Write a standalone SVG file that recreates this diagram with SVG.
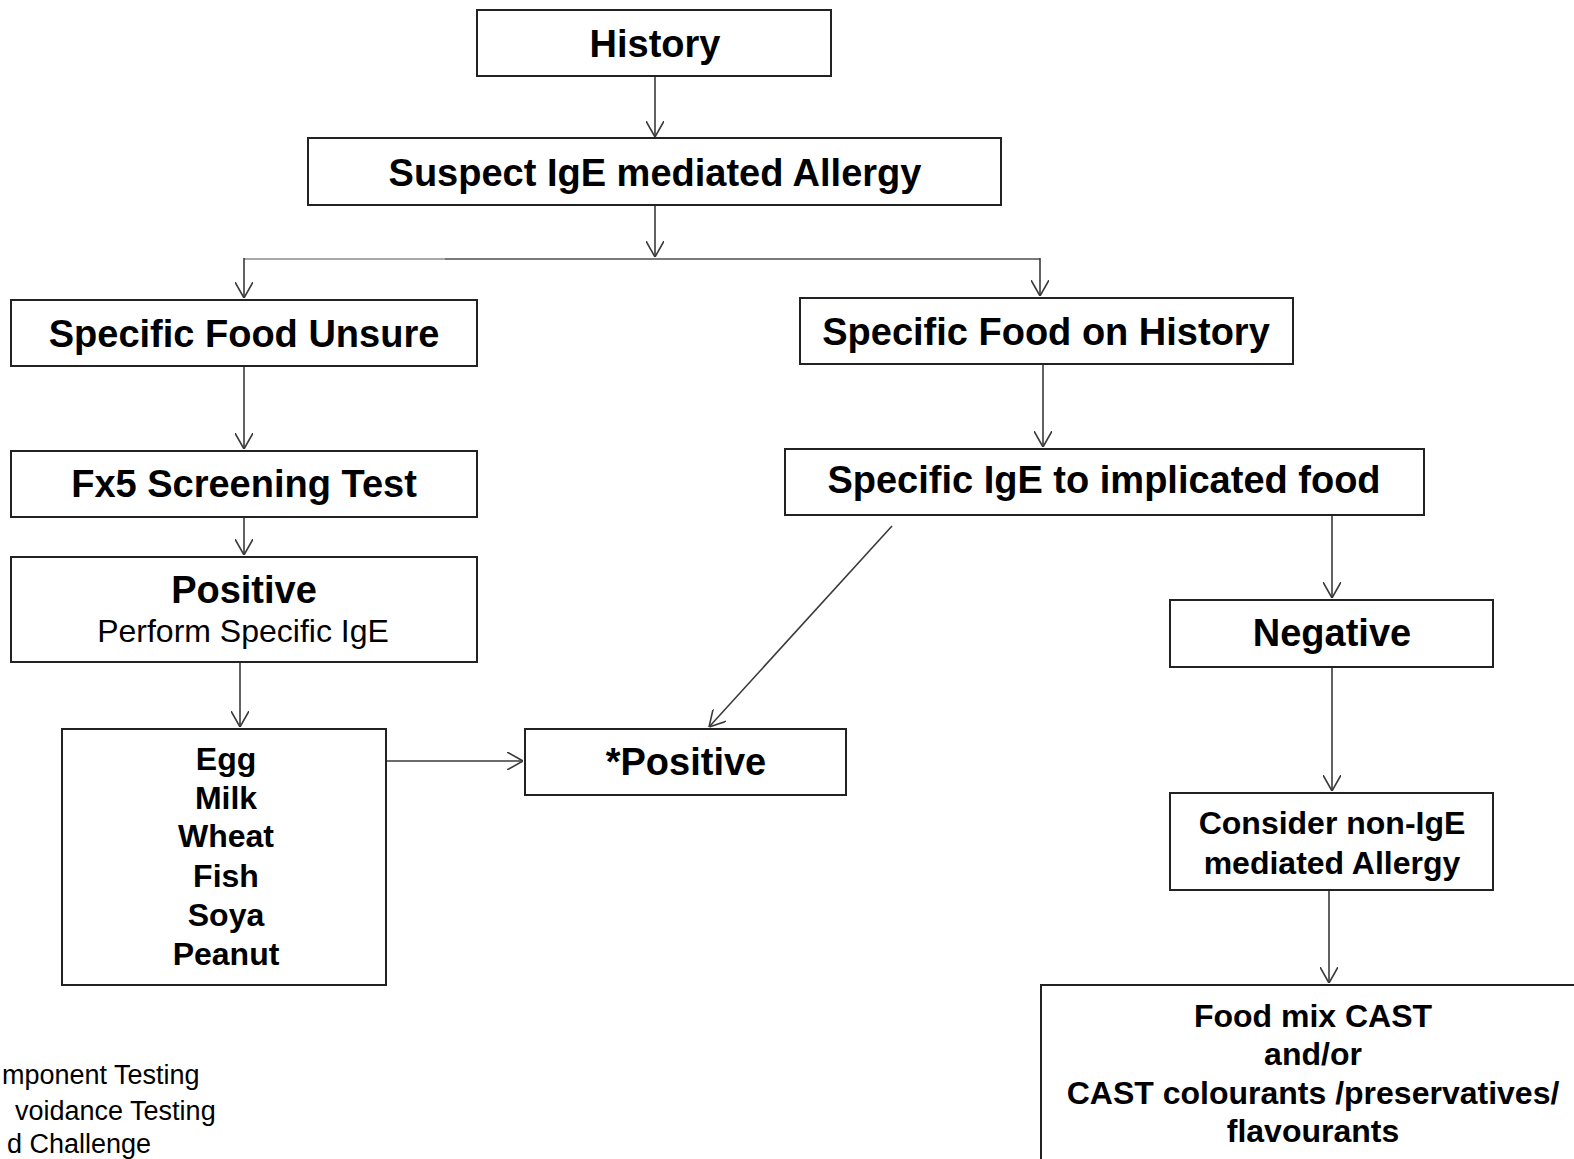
<svg xmlns="http://www.w3.org/2000/svg" width="1574" height="1159" viewBox="0 0 1574 1159">
  <style>
    .box { fill: #ffffff; stroke: #222222; stroke-width: 2; }
    .t { font-family: "Liberation Sans", Arial, sans-serif; fill: #000000; text-anchor: middle; }
    .h { font-size: 38px; font-weight: bold; }
    .l { font-size: 32px; font-weight: bold; }
    .r { font-size: 32px; }
    .note { font-family: "Liberation Sans", Arial, sans-serif; font-size: 27px; fill: #000000; text-anchor: start; }
    .c { fill: none; stroke: #3a3a3a; stroke-width: 1.6; }
  </style>
  <defs>
    <marker id="arrow" viewBox="0 0 16 18" refX="16" refY="9" markerWidth="16" markerHeight="18" markerUnits="userSpaceOnUse" orient="auto">
      <path d="M0,0 L16,9 L0,18" fill="none" stroke="#3a3a3a" stroke-width="1.6"/>
    </marker>
  </defs>
  <rect width="1574" height="1159" fill="#ffffff"/>

  <!-- connectors -->
  <g id="connectors">
    <line class="c" x1="655" y1="76" x2="655" y2="137" marker-end="url(#arrow)"/>
    <line class="c" x1="655" y1="205" x2="655" y2="257" marker-end="url(#arrow)"/>
    <line x1="244" y1="259" x2="445" y2="259" stroke="#a8a8a8" stroke-width="2"/>
    <line x1="445" y1="259" x2="1040" y2="259" stroke="#7a7a7a" stroke-width="1.8"/>
    <line class="c" x1="244" y1="258" x2="244" y2="298" marker-end="url(#arrow)"/>
    <line class="c" x1="1040" y1="258" x2="1040" y2="296" marker-end="url(#arrow)"/>
    <line class="c" x1="244" y1="366" x2="244" y2="449" marker-end="url(#arrow)"/>
    <line class="c" x1="244" y1="517" x2="244" y2="555" marker-end="url(#arrow)"/>
    <line class="c" x1="240" y1="662" x2="240" y2="727" marker-end="url(#arrow)"/>
    <line class="c" x1="386" y1="761" x2="523" y2="761" stroke="#6a6a6a" marker-end="url(#arrow)"/>
    <line class="c" x1="1043" y1="364" x2="1043" y2="447" marker-end="url(#arrow)"/>
    <line class="c" x1="892" y1="526" x2="709" y2="727" marker-end="url(#arrow)"/>
    <line class="c" x1="1332" y1="515" x2="1332" y2="598" marker-end="url(#arrow)"/>
    <line class="c" x1="1332" y1="667" x2="1332" y2="791" marker-end="url(#arrow)"/>
    <line class="c" x1="1329" y1="890" x2="1329" y2="983" marker-end="url(#arrow)"/>
  </g>

  <g id="history">
    <rect class="box" x="477" y="10" width="354" height="66"/>
    <text class="t h" x="655" y="57">History</text>
  </g>
  <g id="suspect">
    <rect class="box" x="308" y="138" width="693" height="67"/>
    <text class="t h" x="655" y="186">Suspect IgE mediated Allergy</text>
  </g>
  <g id="food-unsure">
    <rect class="box" x="11" y="300" width="466" height="66"/>
    <text class="t h" x="244" y="347">Specific Food Unsure</text>
  </g>
  <g id="food-history">
    <rect class="box" x="800" y="298" width="493" height="66"/>
    <text class="t h" x="1046" y="345">Specific Food on History</text>
  </g>
  <g id="fx5">
    <rect class="box" x="11" y="451" width="466" height="66"/>
    <text class="t h" x="244" y="497">Fx5 Screening Test</text>
  </g>
  <g id="specific-ige">
    <rect class="box" x="785" y="449" width="639" height="66"/>
    <text class="t h" x="1104" y="493">Specific IgE to implicated food</text>
  </g>
  <g id="positive-screen">
    <rect class="box" x="11" y="557" width="466" height="105"/>
    <text class="t h" x="244" y="603">Positive</text>
    <text class="t r" x="243" y="642" fill="#111122">Perform Specific IgE</text>
  </g>
  <g id="food-list">
    <rect class="box" x="62" y="729" width="324" height="256"/>
    <text class="t l" x="226" y="770">Egg</text>
    <text class="t l" x="226" y="809">Milk</text>
    <text class="t l" x="226" y="847">Wheat</text>
    <text class="t l" x="226" y="887">Fish</text>
    <text class="t l" x="226" y="926">Soya</text>
    <text class="t l" x="226" y="965">Peanut</text>
  </g>
  <g id="positive">
    <rect class="box" x="525" y="729" width="321" height="66"/>
    <text class="t h" x="686" y="775">*Positive</text>
  </g>
  <g id="negative">
    <rect class="box" x="1170" y="600" width="323" height="67"/>
    <text class="t h" x="1332" y="646">Negative</text>
  </g>
  <g id="non-ige">
    <rect class="box" x="1170" y="793" width="323" height="97"/>
    <text class="t l" x="1332" y="834">Consider non-IgE</text>
    <text class="t l" x="1332" y="874">mediated Allergy</text>
  </g>
  <g id="cast">
    <rect class="box" x="1041" y="985" width="545" height="190"/>
    <text class="t l" x="1313" y="1027">Food mix CAST</text>
    <text class="t l" x="1313" y="1065">and/or</text>
    <text class="t l" x="1313" y="1104">CAST colourants /preservatives/</text>
    <text class="t l" x="1313" y="1142">flavourants</text>
  </g>

  <!-- notes at the lower left edge -->
  <g id="notes">
    <text class="note" x="2" y="1084">mponent Testing</text>
    <text class="note" x="15" y="1120">voidance Testing</text>
    <text class="note" x="7" y="1153">d Challenge</text>
  </g>
</svg>
